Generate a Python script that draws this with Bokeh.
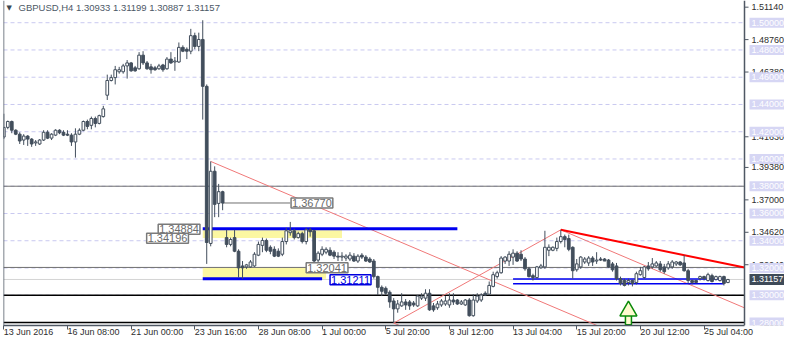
from bokeh.plotting import figure
from bokeh.models import Range1d, FixedTicker, Label, Span
from bokeh.core.properties import value
from bokeh.embed import file_html
from bokeh.resources import INLINE

# ---------------- data (GBPUSD H4, bar index 0 = 13 Jun 2016 16:00) ----------------
open_ = [
 1.4161,1.4232,1.4275,1.4211,1.4182,1.4139,1.4168,1.4146,1.4118,1.4110,
 1.4139,1.4196,1.4153,1.4175,1.4211,1.4196,1.4182,1.4175,1.4125,1.4182,
 1.4211,1.4275,1.4247,1.4297,1.4261,1.4311,1.4468,1.4576,1.4597,1.4640,
 1.4640,1.4683,1.4705,1.4669,1.4662,1.4762,1.4705,1.4676,1.4669,1.4662,
 1.4690,1.4662,1.4733,1.4712,1.4712,1.4819,1.4805,1.4791,1.4905,1.4826,
 1.4877,1.4533,1.3380,1.3910,1.3674,1.3760,1.3423,1.3373,1.3423,1.3323,
 1.3215,1.3208,1.3208,1.3215,1.3294,1.3366,1.3402,1.3352,1.3337,1.3323,
 1.3301,1.3394,1.3459,1.3473,1.3423,1.3452,1.3394,1.3480,1.3473,1.3258,
 1.3301,1.3316,1.3330,1.3316,1.3287,1.3280,1.3273,1.3266,1.3287,1.3251,
 1.3294,1.3280,1.3266,1.3251,1.3137,1.3058,1.3051,1.3022,1.2958,1.2900,
 1.2922,1.2951,1.2951,1.2943,1.2922,1.2979,1.2979,1.3015,1.2922,1.2908,
 1.2929,1.2936,1.2929,1.2965,1.2965,1.2936,1.2929,1.2965,1.2850,1.2958,
 1.2965,1.3015,1.3008,1.3065,1.3137,1.3165,1.3251,1.3251,1.3280,1.3309,
 1.3301,1.3266,1.3194,1.3144,1.3130,1.3201,1.3208,1.3330,1.3330,1.3344,
 1.3394,1.3430,1.3416,1.3352,1.3187,1.3208,1.3244,1.3237,1.3273,1.3251,
 1.3266,1.3266,1.3258,1.3230,1.3215,1.3122,1.3108,1.3094,1.3108,1.3094,
 1.3151,1.3130,1.3215,1.3208,1.3215,1.3230,1.3208,1.3201,1.3208,1.3230,
 1.3244,1.3237,1.3180,1.3108,1.3108,1.3122,1.3137,1.3108,1.3144,1.3115,
 1.3108,1.3137,1.30933]
high = [
 1.4332,1.4282,1.4282,1.4218,1.4196,1.4182,1.4175,1.4153,1.4139,1.4146,
 1.4211,1.4211,1.4189,1.4218,1.4218,1.4211,1.4211,1.4189,1.4225,1.4225,
 1.4282,1.4289,1.4311,1.4311,1.4325,1.4390,1.4619,1.4619,1.4683,1.4676,
 1.4698,1.4726,1.4712,1.4683,1.4784,1.4791,1.4719,1.4698,1.4683,1.4698,
 1.4698,1.4748,1.4784,1.4748,1.4855,1.4834,1.4819,1.4955,1.4927,1.4927,
 1.5018,1.4547,1.3982,1.3946,1.3817,1.3767,1.3480,1.3423,1.3480,1.3337,
 1.3251,1.3230,1.3258,1.3316,1.3394,1.3423,1.3416,1.3366,1.3359,1.3344,
 1.3423,1.3495,1.3538,1.3488,1.3466,1.3466,1.3495,1.3495,1.3480,1.3323,
 1.3359,1.3352,1.3352,1.3330,1.3316,1.3316,1.3301,1.3316,1.3309,1.3301,
 1.3309,1.3294,1.3280,1.3266,1.3144,1.3072,1.3065,1.3036,1.2979,1.2965,
 1.3015,1.2972,1.2965,1.2958,1.3001,1.3015,1.3044,1.3044,1.2943,1.2958,
 1.2972,1.2994,1.3015,1.3015,1.2972,1.2965,1.2972,1.2979,1.3008,1.3015,
 1.3015,1.3029,1.3101,1.3173,1.3180,1.3287,1.3287,1.3323,1.3337,1.3323,
 1.3330,1.3280,1.3208,1.3158,1.3215,1.3230,1.3473,1.3373,1.3359,1.3423,
 1.3480,1.3445,1.3445,1.3359,1.3266,1.3287,1.3280,1.3287,1.3287,1.3316,
 1.3280,1.3273,1.3266,1.3244,1.3237,1.3137,1.3122,1.3122,1.3115,1.3173,
 1.3208,1.3215,1.3244,1.3273,1.3251,1.3251,1.3230,1.3251,1.3258,1.3251,
 1.3251,1.3294,1.3194,1.3115,1.3115,1.3144,1.3144,1.3165,1.3158,1.3144,
 1.3144,1.3144,1.31199]
low = [
 1.4146,1.4218,1.4189,1.4175,1.4110,1.4103,1.4096,1.4089,1.4096,1.4103,
 1.4132,1.4146,1.4139,1.4168,1.4182,1.4168,1.4168,1.4096,1.4010,1.4175,
 1.4204,1.4218,1.4218,1.4232,1.4254,1.4304,1.4433,1.4569,1.4547,1.4626,
 1.4626,1.4590,1.4640,1.4640,1.4655,1.4690,1.4655,1.4626,1.4647,1.4655,
 1.4640,1.4655,1.4698,1.4647,1.4705,1.4784,1.4733,1.4769,1.4805,1.4791,
 1.4289,1.3230,1.3359,1.3573,1.3573,1.3624,1.3352,1.3359,1.3316,1.3130,
 1.3121,1.3194,1.3201,1.3208,1.3287,1.3316,1.3316,1.3301,1.3280,1.3280,
 1.3287,1.3373,1.3437,1.3409,1.3416,1.3380,1.3373,1.3430,1.3208,1.3208,
 1.3287,1.3301,1.3287,1.3266,1.3251,1.3251,1.3251,1.3251,1.3244,1.3237,
 1.3266,1.3244,1.3237,1.3122,1.3001,1.2994,1.3001,1.2908,1.2796,1.2872,
 1.2915,1.2893,1.2893,1.2915,1.2915,1.2965,1.2958,1.2886,1.2879,1.2893,
 1.2915,1.2922,1.2908,1.2929,1.2929,1.2929,1.2922,1.2843,1.2843,1.2943,
 1.2951,1.2994,1.3001,1.3058,1.3122,1.3158,1.3230,1.3215,1.3223,1.3244,
 1.3251,1.3180,1.3130,1.3108,1.3122,1.3194,1.3194,1.3287,1.3323,1.3323,
 1.3380,1.3352,1.3323,1.3122,1.3173,1.3194,1.3230,1.3215,1.3215,1.3230,
 1.3251,1.3251,1.3201,1.3173,1.3108,1.3072,1.3065,1.3072,1.3065,1.3079,
 1.3144,1.3122,1.3180,1.3194,1.3208,1.3173,1.3158,1.3187,1.3194,1.3215,
 1.3215,1.3173,1.3087,1.3079,1.3087,1.3108,1.3108,1.3101,1.3094,1.3108,
 1.3101,1.3072,1.30887]
close = [
 1.4232,1.4275,1.4211,1.4182,1.4132,1.4168,1.4146,1.4110,1.4125,1.4139,
 1.4196,1.4153,1.4182,1.4211,1.4192,1.4175,1.4175,1.4125,1.4182,1.4211,
 1.4275,1.4239,1.4297,1.4261,1.4318,1.4368,1.4576,1.4597,1.4655,1.4655,
 1.4683,1.4705,1.4647,1.4647,1.4762,1.4705,1.4662,1.4655,1.4655,1.4683,
 1.4655,1.4733,1.4705,1.4719,1.4819,1.4791,1.4791,1.4905,1.4826,1.4877,
 1.4533,1.3387,1.3910,1.3667,1.3760,1.3677,1.3373,1.3409,1.3323,1.3201,
 1.3201,1.3223,1.3244,1.3301,1.3373,1.3402,1.3330,1.3323,1.3287,1.3287,
 1.3394,1.3473,1.3473,1.3423,1.3452,1.3394,1.3480,1.3466,1.3251,1.3309,
 1.3337,1.3337,1.3294,1.3287,1.3280,1.3287,1.3287,1.3294,1.3251,1.3287,
 1.3280,1.3251,1.3244,1.3137,1.3058,1.3029,1.3015,1.2951,1.2900,1.2936,
 1.2951,1.2929,1.2922,1.2929,1.2994,1.2994,1.3015,1.2893,1.2893,1.2936,
 1.2958,1.2958,1.2965,1.2951,1.2936,1.2951,1.2965,1.2850,1.2965,1.2994,
 1.3001,1.3001,1.3072,1.3151,1.3165,1.3273,1.3280,1.3301,1.3309,1.3251,
 1.3266,1.3194,1.3137,1.3130,1.3208,1.3215,1.3352,1.3352,1.3352,1.3394,
 1.3430,1.3409,1.3337,1.3180,1.3230,1.3280,1.3266,1.3273,1.3244,1.3258,
 1.3258,1.3251,1.3208,1.3187,1.3122,1.3087,1.3072,1.3108,1.3087,1.3158,
 1.3180,1.3208,1.3194,1.3230,1.3237,1.3187,1.3173,1.3230,1.3244,1.3244,
 1.3223,1.3180,1.3108,1.3094,1.3094,1.3137,1.3122,1.3151,1.3101,1.3137,
 1.3137,1.3087,1.31157]

x_tick_bars = [0, 16, 32, 48, 64, 80, 96, 112, 128, 144, 160, 176]
x_tick_labels = ["13 Jun 2016", "16 Jun 08:00", "21 Jun 00:00", "23 Jun 16:00",
                 "28 Jun 08:00", "1 Jul 00:00", "5 Jul 20:00", "8 Jul 12:00",
                 "13 Jul 04:00", "15 Jul 20:00", "20 Jul 12:00", "25 Jul 04:00"]
y_ticks = [1.5114, 1.4876, 1.4638, 1.4163, 1.3938, 1.3700, 1.3462, 1.3224, 1.2762]
level_prices = [1.50, 1.48, 1.46, 1.44, 1.42, 1.40, 1.38, 1.36, 1.34, 1.32, 1.30, 1.28]
symbol = "GBPUSD,H4"
last_price = 1.31157

# drawn objects
res_zone = dict(top=1.34884, bottom=1.34196, start=50, end=85)
sup_zone = dict(top=1.3200, bottom=1.31211, start=50, end=81)
thick_blue = [(1.34884, 50, 114), (1.31211, 50, 80)]
thin_blue = [(1.3120, 128, 181), (1.3085, 128, 181)]
gray_levels = [1.3800, 1.32041]
black_levels = [1.3000, 1.2800]
mark_1_3677 = (1.36770, 55, 72)
channel_slope = -0.00124          # price per bar of the falling channel
channel_anchors = [(52, 1.3982), (98, 1.2796), (140, 1.3480)]
rise_line = [(98, 1.2796), (140, 1.3480)]
red_trend = [(140, 1.3480), (171, 1.3294)]
arrow_bar, arrow_tip = 157, 1.2921

# ---------------- layout ----------------
W, H = 784, 344
B_LEFT, B_BOTTOM = 3, 16
AXIS_STRIP = 40                     # pixels right of the price axis line
FRAME_W, FRAME_H = W - B_LEFT, H - B_BOTTOM
X0 = -0.08                          # left edge of the price area (bars)
X_END = 186.17                      # price axis line (bars)
PXB = (FRAME_W - AXIS_STRIP) / (X_END - X0)   # pixels per bar
X_MAX = X0 + FRAME_W / PXB
Y0, Y1 = 1.2778, 1.5163
FRAME = "#4f5864"
CANDLE = "#424e5c"
FONT = "Liberation Sans"

p = figure(width=W, height=H, output_backend="svg", toolbar_location=None,
           x_range=Range1d(X0, X_MAX), y_range=Range1d(Y0, Y1),
           min_border_left=B_LEFT, min_border_right=0, min_border_top=0,
           min_border_bottom=B_BOTTOM)
p.outline_line_color = None
p.grid.visible = False
p.yaxis.visible = False

# x axis (time)
xa = p.xaxis[0]
xa.ticker = FixedTicker(ticks=x_tick_bars)
xa.major_label_overrides = {b: s for b, s in zip(x_tick_bars, x_tick_labels)}
xa.major_label_orientation = -0.0001      # tiny angle -> labels start at the tick
xa.major_label_text_font = FONT
xa.major_label_text_font_size = "9px"
xa.major_label_text_color = "#2e2e2e"
xa.axis_line_color = FRAME
xa.axis_line_width = 1.5
xa.bounds = (X0, X_END)
xa.major_tick_line_color = FRAME
xa.major_tick_out = 4
xa.major_tick_in = 0
xa.minor_tick_line_color = None
xa.major_label_standoff = 2

p.add_layout(Span(location=X0, dimension="height", line_color=FRAME, line_width=1.5))

# level lines (dashed lavender)
n = len(level_prices)
p.segment(x0=[X0] * n, x1=[X_END] * n, y0=level_prices, y1=level_prices,
          line_color="#c9c9f0", line_width=1, line_dash="4 3")

# zones
for z in (res_zone, sup_zone):
    p.quad(left=z["start"], right=z["end"], top=z["top"], bottom=z["bottom"],
           fill_color="#fbf7a2", line_color=None)

def hline(levels, color, width):
    k = len(levels)
    p.segment(x0=[X0] * k, x1=[X_END] * k, y0=levels, y1=levels,
              line_color=color, line_width=width)

hline(gray_levels, "#6f6f6f", 1)
hline([last_price], "#d4d4d4", 1)
hline(black_levels, "#000000", 1.5)

# red lines
def ray(b0, v0, slope, b1=X_END):
    return [b0, b1], [v0, v0 + slope * (b1 - b0)]

for b0, v0 in channel_anchors:
    xs, ys = ray(b0, v0, channel_slope)
    p.line(xs, ys, line_color="#f07878", line_width=1)
p.line([rise_line[0][0], rise_line[1][0]], [rise_line[0][1], rise_line[1][1]],
       line_color="#f07878", line_width=1)
(tb0, tv0), (tb1, tv1) = red_trend
xs, ys = ray(tb0, tv0, (tv1 - tv0) / (tb1 - tb0))
p.line(xs, ys, line_color="#ff0000", line_width=2)

# blue lines
for lv, b0, b1 in thick_blue:
    p.segment(x0=b0, y0=lv, x1=b1, y1=lv, line_color="#0000f0", line_width=3)
for lv, b0, b1 in thin_blue:
    p.segment(x0=b0, y0=lv, x1=b1, y1=lv, line_color="#0000f0", line_width=1.5)

lv, b0, b1 = mark_1_3677
p.segment(x0=b0, y0=lv, x1=b1, y1=lv, line_color="#6f6f6f", line_width=1)

# candles
idx = list(range(len(close)))
up = [c >= o for o, c in zip(open_, close)]
top = [max(o, c) for o, c in zip(open_, close)]
bot = [min(o, c) for o, c in zip(open_, close)]
p.segment(x0=idx, y0=low, x1=idx, y1=high, line_color=CANDLE, line_width=1)
p.vbar(x=idx, top=top, bottom=bot, width=0.68,
       fill_color=["#ffffff" if u else CANDLE for u in up],
       line_color=CANDLE, line_width=1)

# arrow
p.rect(x=[arrow_bar], y=[arrow_tip - 0.0098], width=6, height=11,
       width_units="screen", height_units="screen",
       fill_color="#fffbd0", line_color="#0a8a0a", line_width=1.5)
p.scatter(x=[arrow_bar], y=[arrow_tip - 0.0037], marker="triangle", size=17,
          fill_color="#fffbd0", line_color="#0a8a0a", line_width=1.5)

# in-chart price labels
def box(x, y, text, align, color="#6a6a6a", border="#7a7a7a"):
    p.add_layout(Label(x=x, y=y, text=text, text_align=align, text_baseline="middle",
                       text_font=FONT, text_font_size="11px", text_color=color,
                       background_fill_color="white", border_line_color=border,
                       border_line_width=1.5, padding=1))

box(72.2, 1.36770, "%.5f" % 1.36770, "left")
box(49.3, 1.34840, "%.5f" % 1.34884, "right")
box(46.4, 1.34190, "%.5f" % 1.34196, "right")
box(76.0, 1.32020, "%.5f" % 1.32041, "left")
box(82.0, 1.31140, "%.5f" % 1.31211, "left", color="#0000e0", border="#0000e0")

# ---------------- price axis (right strip) ----------------
p.segment(x0=[X_END], x1=[X_END], y0=[Y0], y1=[Y1], line_color=FRAME, line_width=1.5)
k = len(y_ticks)
p.segment(x0=[X_END] * k, x1=[X_END + 4 / PXB] * k, y0=y_ticks, y1=y_ticks,
          line_color=FRAME, line_width=1)
LBL_X = X_END + 7 / PXB
p.text(x=[LBL_X] * k, y=y_ticks, text=["%.5f" % t for t in y_ticks],
       text_font=value(FONT), text_font_size=value("9px"), text_color="#2e2e2e",
       text_baseline="middle", text_align="left")
TAG_X = X_END + 22.5 / PXB
p.rect(x=[TAG_X] * n, y=level_prices, width=35, height=10,
       width_units="screen", height_units="screen", fill_color="#d6d6f4", line_color=None)
p.text(x=[LBL_X] * n, y=level_prices, text=["%.5f" % t for t in level_prices],
       text_font=value(FONT), text_font_size=value("9px"), text_color="#ffffff",
       text_baseline="middle", text_align="left")
p.rect(x=[TAG_X], y=[last_price], width=35, height=11,
       width_units="screen", height_units="screen", fill_color="#3e4a58", line_color=None)
p.text(x=[LBL_X], y=[last_price], text=["%.5f" % last_price],
       text_font=value(FONT), text_font_size=value("9px"), text_color="#ffffff",
       text_baseline="middle", text_align="left")

# title
p.add_layout(Label(x=3, y=FRAME_H - 10, x_units="screen", y_units="screen", text="\u25bc",
                   text_font="DejaVu Sans", text_font_size="7px", text_color="#3c4650",
                   text_baseline="middle"))
p.add_layout(Label(x=15, y=FRAME_H - 10, x_units="screen", y_units="screen",
                   text="%s  %.5f %.5f %.5f %.5f" % (symbol, open_[-1], high[-1], low[-1], close[-1]),
                   text_font=FONT, text_font_size="9.5px", text_color="#4c5866",
                   text_baseline="middle"))

open("out.html", "w").write(file_html(p, INLINE))
